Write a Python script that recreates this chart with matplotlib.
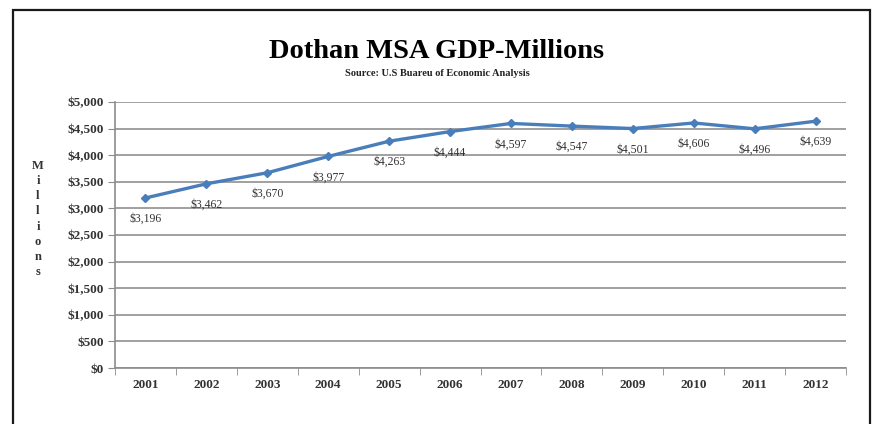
#!/usr/bin/env python3

import numpy as np
import matplotlib.pyplot as plt
from matplotlib.patches import Rectangle
from matplotlib.ticker import FuncFormatter

years = ['2001', '2002', '2003', '2004', '2005', '2006',
         '2007', '2008', '2009', '2010', '2011', '2012']
gdp = [3196, 3462, 3670, 3977, 4263, 4444, 4597, 4547, 4501, 4606, 4496, 4639]
yticks = [0, 500, 1000, 1500, 2000, 2500, 3000, 3500, 4000, 4500, 5000]

W, H = 877, 424
fig = plt.figure(figsize=(W / 100, H / 100), dpi=100)
serif = ['Liberation Serif', 'DejaVu Serif']

# outer frame (runs off the bottom of the picture)
fig.patches.append(Rectangle((13 / W, -0.1), (870 - 13) / W, 1.1 - 10 / H,
                             transform=fig.transFigure, fill=False,
                             edgecolor='#1a1a1a', linewidth=1.6))

ax = fig.add_axes([115 / W, 1 - 368 / H, (846 - 115) / W, (368 - 102) / H])

x = np.arange(len(years))
ax.plot(x, gdp, color='#4a7ebb', linewidth=2.4, marker='D', markersize=4.5,
        markerfacecolor='#4a7ebb', markeredgecolor='#4a7ebb', zorder=3)

for xi, v in zip(x, gdp):
    ax.annotate('${:,}'.format(v), (xi, v), xytext=(0, -15),
                textcoords='offset points', ha='center', va='center',
                fontsize=8.5, family=serif, color='#333333')

ax.set_xlim(-0.5, len(years) - 0.5)
ax.set_ylim(0, 5000)
ax.set_yticks(yticks)
ax.yaxis.set_major_formatter(FuncFormatter(lambda v, p: '${:,.0f}'.format(v)))
ax.set_xticks(x)
ax.set_xticklabels(years)
ax.set_xticks(np.arange(-0.5, len(years)), minor=True)

ax.grid(axis='y', color='#999999', linewidth=1.3)
ax.set_axisbelow(True)
for s in ['top', 'right']:
    ax.spines[s].set_visible(False)
ax.spines['left'].set_color('#8c8c8c')
ax.spines['bottom'].set_color('#8c8c8c')
ax.spines['left'].set_linewidth(1.2)
ax.spines['bottom'].set_linewidth(1.2)

ax.tick_params(axis='y', length=5, color='#8c8c8c', labelsize=9.5,
               labelcolor='#333333', pad=3)
ax.tick_params(axis='x', which='major', length=0, labelsize=9.5,
               labelcolor='#333333', pad=8)
ax.tick_params(axis='x', which='minor', length=5, color='#8c8c8c',
               direction='out')
for lbl in ax.get_xticklabels() + ax.get_yticklabels():
    lbl.set_family(serif)
    lbl.set_fontweight('bold')

fig.text(437 / W, 1 - 51 / H, 'Dothan MSA GDP-Millions', ha='center',
         va='center', fontsize=20.5, fontweight='bold', family=serif)
fig.text(437 / W, 1 - 73 / H, 'Source: U.S Buareu of Economic Analysis',
         ha='center', va='center', fontsize=7.5, fontweight='bold',
         family=serif, color='#222222')
fig.text(38 / W, 1 - 219 / H, '\n'.join('Millions'), ha='center',
         va='center', fontsize=9, fontweight='bold', family=serif,
         color='#333333', linespacing=1.35)

fig.savefig('out.png', dpi=100, facecolor='white')
